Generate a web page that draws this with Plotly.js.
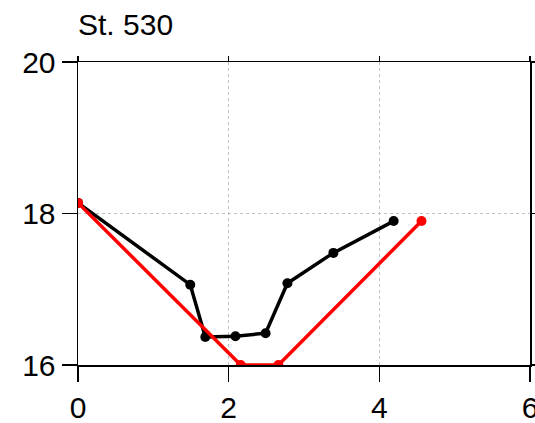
<!DOCTYPE html>
<html>
<head>
<meta charset="utf-8">
<script src="https://cdn.plot.ly/plotly-3.0.1.min.js"></script>
<style>html,body{margin:0;padding:0;background:#fff;overflow:hidden;}#chart{width:535px;height:423px;}</style>
</head>
<body>
<div id="chart"></div>
<script>
var titleText = "St. 530";
var blackX = [0.0, 1.49, 1.69, 2.09, 2.49, 2.78, 3.39, 4.19];
var blackY = [18.14, 17.06, 16.37, 16.38, 16.42, 17.08, 17.48, 17.90];
var redX = [0.0, 2.16, 2.66, 4.56];
var redY = [18.14, 16.0, 16.0, 17.90];
var xTicks = [0, 2, 4, 6];
var yTicks = [16, 18, 20];

var FONT = 'Liberation Sans, Arial, Helvetica, sans-serif';

var traces = [
  {x: blackX, y: blackY, mode: 'lines+markers', type: 'scatter',
   line: {color: '#000000', width: 3.5}, marker: {color: '#000000', size: 10}, showlegend: false},
  {x: redX, y: redY, mode: 'lines+markers', type: 'scatter',
   line: {color: '#ff0000', width: 3.5}, marker: {color: '#ff0000', size: 10}, showlegend: false},
  // invisible carrier so the mirrored (top/right) tick axes are drawn
  {x: redX, y: redY, xaxis: 'x2', yaxis: 'y2', mode: 'markers', type: 'scatter',
   marker: {opacity: 0}, hoverinfo: 'skip', showlegend: false}
];

var base = {
  showline: true, linecolor: '#000', linewidth: 1.5, mirror: false,
  ticks: 'outside', tickwidth: 1.5, tickcolor: '#000', ticklabeloverflow: 'allow',
  zeroline: false, tickfont: {family: FONT, size: 30, color: '#000'}
};

var layout = {
  width: 535, height: 423,
  margin: {l: 78, r: 4.5, t: 62, b: 58},
  paper_bgcolor: '#fff', plot_bgcolor: '#fff',
  title: {text: titleText, x: 0, xref: 'paper', xanchor: 'left', y: 0.942, yref: 'container', yanchor: 'middle',
          font: {family: FONT, size: 30, color: '#000'}},
  xaxis: Object.assign({}, base, {range: [0, 6], tickvals: xTicks, ticktext: xTicks.map(String), ticklen: 15,
          showgrid: true, gridcolor: '#c0c0c0', gridwidth: 1, griddash: 'dot'}),
  yaxis: Object.assign({}, base, {range: [16, 20], tickvals: yTicks, ticktext: yTicks.map(String), ticklen: 15,
          showgrid: true, gridcolor: '#c0c0c0', gridwidth: 1, griddash: 'dot'}),
  xaxis2: Object.assign({}, base, {overlaying: 'x', side: 'top', anchor: 'y2', range: [0, 6],
          tickvals: xTicks, ticklen: 5, showticklabels: false, showgrid: false}),
  yaxis2: Object.assign({}, base, {overlaying: 'y', side: 'right', anchor: 'x2', range: [16, 20],
          tickvals: yTicks, ticklen: 5, showticklabels: false, showgrid: false})
};

Plotly.newPlot('chart', traces, layout, {displayModeBar: false, staticPlot: true});
</script>
</body>
</html>
